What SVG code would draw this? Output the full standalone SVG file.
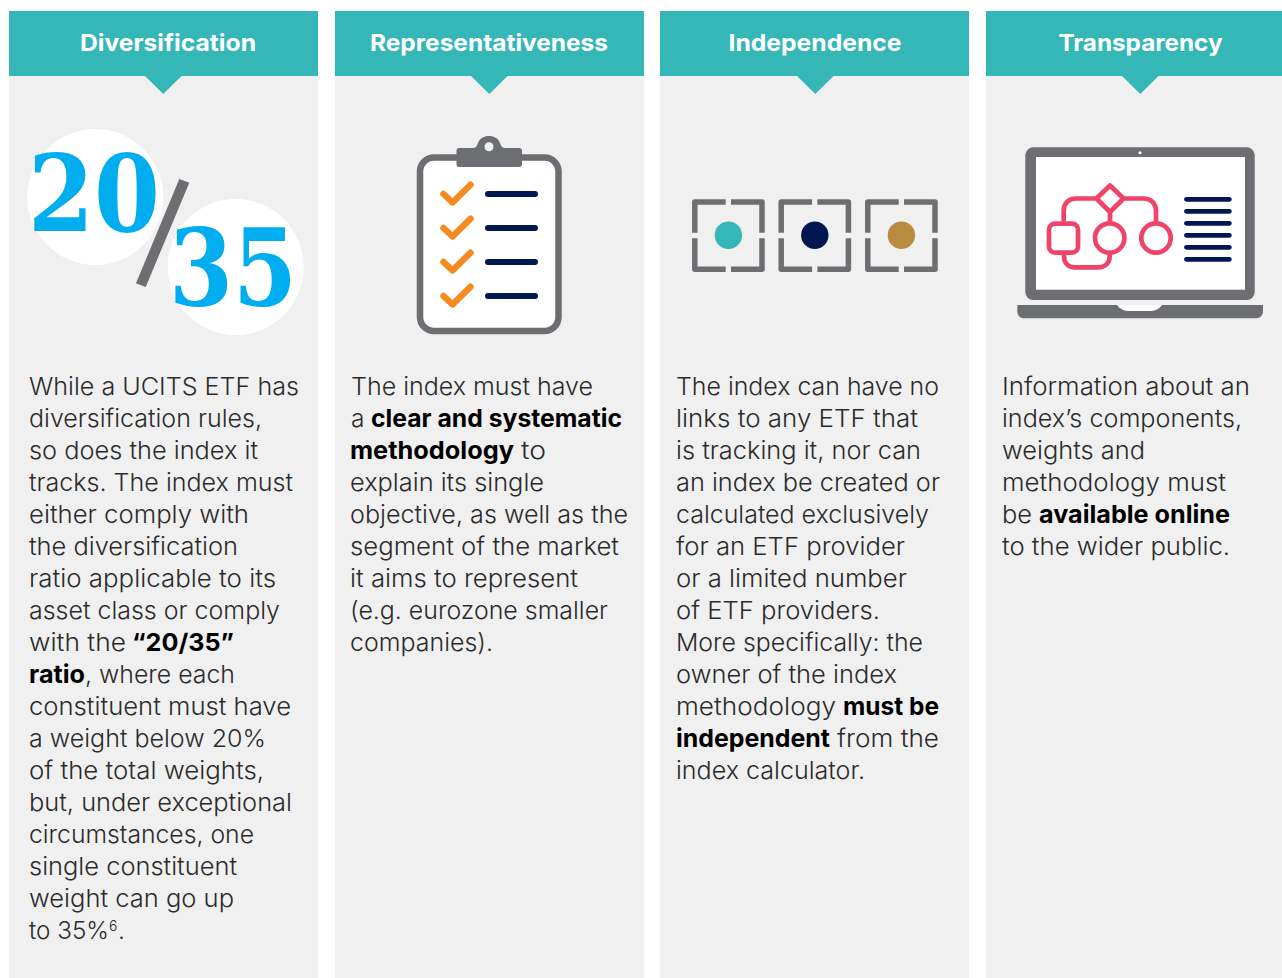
<svg xmlns="http://www.w3.org/2000/svg" width="1282" height="978" viewBox="0 0 1282 978">
<style>
.panel{fill:#f0f0f0}
.head{fill:#36b7b7}
.title{font-family:"Inter","Liberation Sans",sans-serif;font-weight:700;font-size:23.500px;fill:#fff;text-anchor:middle}
.t{font-family:"Inter","Liberation Sans",sans-serif;font-weight:300;font-size:24.500px;fill:#2b2b2b}
.b{font-family:"Inter","Liberation Sans",sans-serif;font-weight:700;font-size:24.500px;fill:#000}
.num{font-family:"DejaVu Serif",serif;font-weight:700;font-stretch:condensed;font-size:106px;fill:#00aeef}
.gr{fill:#6d6e71}
.chk{fill:none;stroke:#f58a20;stroke-width:6.5;stroke-linecap:round;stroke-linejoin:round}
.nav{fill:none;stroke:#00184f;stroke-width:6;stroke-linecap:round}
.nav2{fill:none;stroke:#00184f;stroke-width:4.7;stroke-linecap:round}
.br{fill:none;stroke:#6d6e71;stroke-width:5.5;stroke-linejoin:round}
.fl{fill:none;stroke:#f04368;stroke-width:4.7;stroke-linejoin:round}
</style>
<defs>
<g id="bracket"><path class="br" d="M694.8 232.7V202H725.7M731 202H762V232.7M762 238.3V269.2H731M725.7 269.2H694.8V238.3"/></g>
<g id="check"><polyline class="chk" points="443.5,194 452.5,202.5 470.5,184.7"/></g>
</defs>
<rect width="1282" height="978" fill="#fff"/>
<g id="diversification">
<rect class="panel" x="9" y="11" width="309" height="967"/>
<rect class="head" x="9" y="11" width="309" height="65"/>
<path class="head" d="M145 76H181.500L163.300 94Z"/>
<text class="title" x="168" y="51" textLength="176" lengthAdjust="spacingAndGlyphs">Diversification</text>
<circle cx="95.300" cy="197" r="68" fill="#fff"/>
<circle cx="235.700" cy="267" r="68" fill="#fff"/>
<polygon class="gr" points="179.300,179 189.300,182.700 145.700,287 136,283.300"/>
<text class="num" x="28" y="231" textLength="132" lengthAdjust="spacingAndGlyphs">20</text>
<text class="num" x="169" y="305" textLength="128" lengthAdjust="spacingAndGlyphs">35</text>
<text class="t" x="29" y="395" textLength="270" lengthAdjust="spacingAndGlyphs">While a UCITS ETF has</text>
<text class="t" x="29" y="427" textLength="233" lengthAdjust="spacingAndGlyphs">diversification rules,</text>
<text class="t" x="29" y="459" textLength="229" lengthAdjust="spacingAndGlyphs">so does the index it</text>
<text class="t" x="29" y="491" textLength="264" lengthAdjust="spacingAndGlyphs">tracks. The index must</text>
<text class="t" x="29" y="523" textLength="220" lengthAdjust="spacingAndGlyphs">either comply with</text>
<text class="t" x="29" y="555" textLength="209" lengthAdjust="spacingAndGlyphs">the diversification</text>
<text class="t" x="29" y="587" textLength="247" lengthAdjust="spacingAndGlyphs">ratio applicable to its</text>
<text class="t" x="29" y="619" textLength="251" lengthAdjust="spacingAndGlyphs">asset class or comply</text>
<text class="t" x="29" y="651" textLength="97" lengthAdjust="spacingAndGlyphs">with the</text>
<text class="b" x="132" y="651" textLength="102" lengthAdjust="spacingAndGlyphs">“20/35”</text>
<text class="b" x="29" y="683" textLength="56" lengthAdjust="spacingAndGlyphs">ratio</text>
<text class="t" x="85" y="683" textLength="150" lengthAdjust="spacingAndGlyphs">, where each</text>
<text class="t" x="29" y="715" textLength="262" lengthAdjust="spacingAndGlyphs">constituent must have</text>
<text class="t" x="29" y="747" textLength="237" lengthAdjust="spacingAndGlyphs">a weight below 20%</text>
<text class="t" x="29" y="779" textLength="235" lengthAdjust="spacingAndGlyphs">of the total weights,</text>
<text class="t" x="29" y="811" textLength="263" lengthAdjust="spacingAndGlyphs">but, under exceptional</text>
<text class="t" x="29" y="843" textLength="225" lengthAdjust="spacingAndGlyphs">circumstances, one</text>
<text class="t" x="29" y="875" textLength="208" lengthAdjust="spacingAndGlyphs">single constituent</text>
<text class="t" x="29" y="907" textLength="205" lengthAdjust="spacingAndGlyphs">weight can go up</text>
<text class="t" x="29" y="939" textLength="80" lengthAdjust="spacingAndGlyphs">to 35%</text>
<text class="t" x="109" y="931" style="font-size:14px">6</text>
<text class="t" x="118" y="939">.</text>
</g>
<g id="representativeness">
<rect class="panel" x="335" y="11" width="309" height="967"/>
<rect class="head" x="335" y="11" width="309" height="65"/>
<path class="head" d="M471 76H507.500L489.300 94Z"/>
<text class="title" x="489" y="51" textLength="238" lengthAdjust="spacingAndGlyphs">Representativeness</text>
<rect x="420" y="157.500" width="138.500" height="173.500" rx="14" fill="#fff" stroke="#6d6e71" stroke-width="6.500"/>
<path class="gr" d="M459 148H472C476 148 477 146 478 143C480 138 484 136 489 136C494 136 498 138 500 143C501 146 502 148 506 148H519C521 148 522 149 522 151V164C522 166 521 167 519 167H459C457 167 456.500 166 456.500 164V151C456.500 149 457 148 459 148Z"/>
<circle cx="489" cy="146.700" r="4.500" fill="#f0f0f0"/>
<use href="#check"/><use href="#check" y="34"/><use href="#check" y="68"/><use href="#check" y="102"/>
<path class="nav" d="M488 194H535M488 228H535M488 262H535M488 296H535"/>
<text class="t" x="351" y="395" textLength="242" lengthAdjust="spacingAndGlyphs">The index must have</text>
<text class="t" x="351" y="427">a</text>
<text class="b" x="371" y="427" textLength="251" lengthAdjust="spacingAndGlyphs">clear and systematic</text>
<text class="b" x="350" y="459" textLength="164" lengthAdjust="spacingAndGlyphs">methodology</text>
<text class="t" x="521" y="459" textLength="25" lengthAdjust="spacingAndGlyphs">to</text>
<text class="t" x="350" y="491" textLength="194" lengthAdjust="spacingAndGlyphs">explain its single</text>
<text class="t" x="350" y="523" textLength="278" lengthAdjust="spacingAndGlyphs">objective, as well as the</text>
<text class="t" x="350" y="555" textLength="269" lengthAdjust="spacingAndGlyphs">segment of the market</text>
<text class="t" x="350" y="587" textLength="228" lengthAdjust="spacingAndGlyphs">it aims to represent</text>
<text class="t" x="350" y="619" textLength="258" lengthAdjust="spacingAndGlyphs">(e.g. eurozone smaller</text>
<text class="t" x="350" y="651" textLength="143" lengthAdjust="spacingAndGlyphs">companies).</text>
</g>
<g id="independence">
<rect class="panel" x="660" y="11" width="309" height="967"/>
<rect class="head" x="660" y="11" width="309" height="65"/>
<path class="head" d="M797 76H833.500L815.300 94Z"/>
<text class="title" x="815" y="51" textLength="173" lengthAdjust="spacingAndGlyphs">Independence</text>
<use href="#bracket"/><use href="#bracket" x="86.400"/><use href="#bracket" x="173"/>
<circle cx="728.400" cy="235.300" r="13.700" fill="#36b7b7"/>
<circle cx="814.800" cy="235.300" r="13.700" fill="#00184f"/>
<circle cx="901.400" cy="235.300" r="13.700" fill="#b88b3f"/>
<text class="t" x="676" y="395" textLength="263" lengthAdjust="spacingAndGlyphs">The index can have no</text>
<text class="t" x="676" y="427" textLength="242" lengthAdjust="spacingAndGlyphs">links to any ETF that</text>
<text class="t" x="676" y="459" textLength="245" lengthAdjust="spacingAndGlyphs">is tracking it, nor can</text>
<text class="t" x="676" y="491" textLength="264" lengthAdjust="spacingAndGlyphs">an index be created or</text>
<text class="t" x="676" y="523" textLength="253" lengthAdjust="spacingAndGlyphs">calculated exclusively</text>
<text class="t" x="676" y="555" textLength="229" lengthAdjust="spacingAndGlyphs">for an ETF provider</text>
<text class="t" x="676" y="587" textLength="231" lengthAdjust="spacingAndGlyphs">or a limited number</text>
<text class="t" x="676" y="619" textLength="204" lengthAdjust="spacingAndGlyphs">of ETF providers.</text>
<text class="t" x="676" y="651" textLength="247" lengthAdjust="spacingAndGlyphs">More specifically: the</text>
<text class="t" x="676" y="683" textLength="221" lengthAdjust="spacingAndGlyphs">owner of the index</text>
<text class="t" x="676" y="715" textLength="160" lengthAdjust="spacingAndGlyphs">methodology</text>
<text class="b" x="843" y="715" textLength="96" lengthAdjust="spacingAndGlyphs">must be</text>
<text class="b" x="676" y="747" textLength="154" lengthAdjust="spacingAndGlyphs">independent</text>
<text class="t" x="837" y="747" textLength="102" lengthAdjust="spacingAndGlyphs">from the</text>
<text class="t" x="676" y="779" textLength="189" lengthAdjust="spacingAndGlyphs">index calculator.</text>
</g>
<g id="transparency">
<rect class="panel" x="986" y="11" width="296" height="967"/>
<rect class="head" x="986" y="11" width="296" height="65"/>
<path class="head" d="M1122 76H1158.500L1140.300 94Z"/>
<text class="title" x="1140.500" y="51" textLength="164" lengthAdjust="spacingAndGlyphs">Transparency</text>
<rect class="gr" x="1025.300" y="147.300" width="229.400" height="152.700" rx="8"/>
<rect x="1036" y="157" width="209" height="132.700" fill="#fff"/>
<circle cx="1140" cy="152.700" r="1.500" fill="#fff"/>
<path class="gr" d="M1017.300 305H1263V311C1263 315.500 1260 318.300 1256 318.300H1024C1020 318.300 1017.300 315.500 1017.300 311Z"/>
<path d="M1117 305H1162C1159 309 1155 311 1150 311H1129C1124 311 1120 309 1117 305Z" fill="#fff"/>
<path class="fl" d="M1110 185.500L1123.500 198.500L1110 212L1096.500 198.500ZM1096.500 198.500H1076C1068.500 198.500 1063.700 203.500 1063.700 211V221.500M1123.500 198.500H1143.500C1151 198.500 1156 203.500 1156 211V221.500M1110 212V221.500M1064 255V256C1064 263 1068.500 267.300 1075 267.300H1098C1105 267.300 1109.700 263 1109.700 256V254"/>
<rect class="fl" x="1049" y="223.600" width="29" height="29" rx="6"/>
<circle class="fl" cx="1109.700" cy="238" r="14.700"/>
<circle class="fl" cx="1156" cy="238" r="14.700"/>
<path class="nav2" d="M1186.400 199.300H1229.400M1186.400 211.300H1229.400M1186.400 223.300H1229.400M1186.400 235.300H1229.400M1186.400 247.300H1229.400M1186.400 259.300H1229.400"/>
<text class="t" x="1002" y="395" textLength="248" lengthAdjust="spacingAndGlyphs">Information about an</text>
<text class="t" x="1002" y="427" textLength="240" lengthAdjust="spacingAndGlyphs">index’s components,</text>
<text class="t" x="1002" y="459" textLength="143" lengthAdjust="spacingAndGlyphs">weights and</text>
<text class="t" x="1002" y="491" textLength="224" lengthAdjust="spacingAndGlyphs">methodology must</text>
<text class="t" x="1002" y="523" textLength="30" lengthAdjust="spacingAndGlyphs">be</text>
<text class="b" x="1039" y="523" textLength="191" lengthAdjust="spacingAndGlyphs">available online</text>
<text class="t" x="1002" y="555" textLength="228" lengthAdjust="spacingAndGlyphs">to the wider public.</text>
</g>
</svg>
